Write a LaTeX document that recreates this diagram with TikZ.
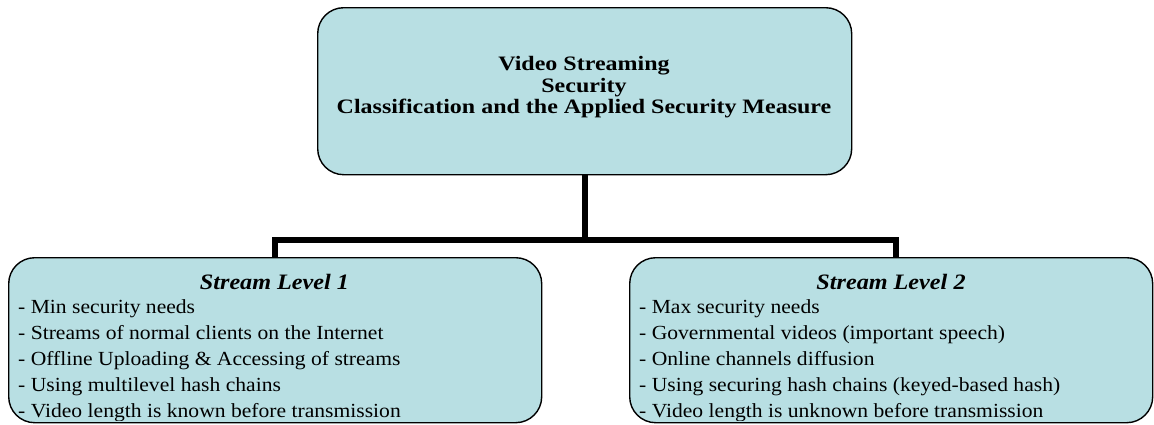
\documentclass[tikz,border=0pt]{standalone}
\usepackage{fontspec}
\setmainfont{Liberation Serif}[FakeStretch=1.08]
\newfontfamily\ttlfont{Liberation Serif}[FakeStretch=1.17]
\newfontfamily\headfont{Liberation Serif}[FakeStretch=1.1]
\definecolor{boxfill}{RGB}{184,223,227}
\begin{document}
\begin{tikzpicture}[x=1pt,y=-1pt,
  box/.style={draw=black, line width=1.4pt, fill=boxfill, rounded corners=26pt, inner sep=0pt, anchor=north west},
  conn/.style={line width=5.5pt, line join=miter},
  bodyline/.style={inner sep=0pt, anchor=base west, font=\fontsize{20}{26}\selectfont},
  head/.style={inner sep=0pt, anchor=base, font=\headfont\fontsize{22}{26}\selectfont\bfseries\itshape},
  ttl/.style={inner sep=0pt, anchor=base, font=\ttlfont\fontsize{20.5}{21.5}\selectfont\bfseries}]
\useasboundingbox (0,0) rectangle (1154,424);

% boxes
\node[box, minimum width=534pt, minimum height=167pt] (top) at (317,7) {};
\node[box, minimum width=533pt, minimum height=165pt] (l1) at (8,257) {};
\node[box, minimum width=523pt, minimum height=165pt] (l2) at (629,257) {};

% connectors
\coordinate (j) at (585,240);
\draw[conn] (top.south -| j) -- (j);
\draw[conn] (l1.north) |- (j) -| ([xshift=5pt]l2.north);

% top title
\node[ttl] (t1) at (584,70) {Video Streaming};
\node[ttl] (t2) at (584,92) {Security};
\node[ttl] (t3) at (584,113.5) {Classification and the Applied Security Measure};

% box texts (clipped at the box bottom)
\begin{scope}
\clip (0,0) rectangle (1154,420);
\node[head] (h1) at (274.5,289) {Stream Level 1};
\node[bodyline] (a1) at (18,313) {- Min security needs};
\node[bodyline] (a2) at (18,339) {- Streams of normal clients on the Internet};
\node[bodyline] (a3) at (18,365) {- Offline Uploading \& Accessing of streams};
\node[bodyline] (a4) at (18,391) {- Using multilevel hash chains};
\node[bodyline] (a5) at (18,417) {- Video length is known before transmission};

\node[head] (h2) at (891,289) {Stream Level 2};
\node[bodyline] (b1) at (639,313) {- Max security needs};
\node[bodyline] (b2) at (639,339) {- Governmental videos (important speech)};
\node[bodyline] (b3) at (639,365) {- Online channels diffusion};
\node[bodyline] (b4) at (639,391) {- Using securing hash chains (keyed-based hash)};
\node[bodyline] (b5) at (639,417) {- Video length is unknown before transmission};
\end{scope}
\end{tikzpicture}
\end{document}
